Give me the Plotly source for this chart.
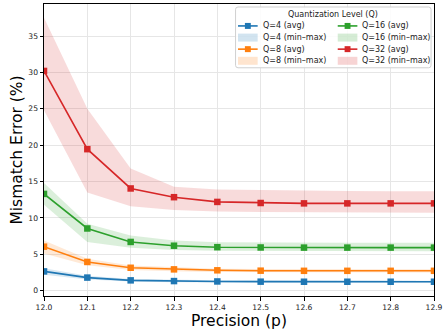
import plotly.graph_objects as go

# Precision sweep and mismatch error per quantization level
precision = [12.0, 12.1, 12.2, 12.3, 12.4, 12.5, 12.6, 12.7, 12.8, 12.9]

q4_avg = [2.65, 1.80, 1.42, 1.32, 1.27, 1.24, 1.23, 1.23, 1.23, 1.23]
q4_min = [2.20, 1.55, 1.25, 1.17, 1.12, 1.09, 1.08, 1.08, 1.08, 1.08]
q4_max = [3.10, 2.05, 1.60, 1.48, 1.42, 1.39, 1.38, 1.38, 1.38, 1.38]

q8_avg = [6.05, 3.95, 3.15, 2.93, 2.80, 2.75, 2.73, 2.73, 2.73, 2.73]
q8_min = [5.10, 3.50, 2.85, 2.68, 2.57, 2.53, 2.51, 2.51, 2.51, 2.51]
q8_max = [6.90, 4.40, 3.45, 3.20, 3.03, 2.97, 2.95, 2.95, 2.95, 2.95]

q16_avg = [13.30, 8.55, 6.70, 6.18, 5.98, 5.94, 5.92, 5.92, 5.92, 5.92]
q16_min = [11.80, 6.70, 5.90, 5.60, 5.50, 5.45, 5.42, 5.42, 5.42, 5.42]
q16_max = [14.80, 9.20, 7.60, 6.90, 6.65, 6.60, 6.58, 6.58, 6.58, 6.58]

q32_avg = [30.20, 19.45, 14.05, 12.85, 12.20, 12.05, 12.00, 12.00, 12.00, 12.00]
q32_min = [24.80, 13.50, 11.60, 11.10, 10.90, 10.80, 10.75, 10.70, 10.70, 10.70]
q32_max = [37.50, 25.00, 16.80, 14.30, 13.90, 13.80, 13.70, 13.70, 13.65, 13.65]

y_ticks = [0, 5, 10, 15, 20, 25, 30, 35]
x_ticks = precision

levels = [
    ("Q=4", "#1f77b4", q4_avg, q4_min, q4_max),
    ("Q=8", "#ff7f0e", q8_avg, q8_min, q8_max),
    ("Q=16", "#2ca02c", q16_avg, q16_min, q16_max),
    ("Q=32", "#d62728", q32_avg, q32_min, q32_max),
]

BAND_ALPHA = 0.17


def rgba(hex_color, alpha):
    h = hex_color.lstrip("#")
    r, g, b = int(h[0:2], 16), int(h[2:4], 16), int(h[4:6], 16)
    return f"rgba({r},{g},{b},{alpha})"


fig = go.Figure()

# min-max bands first so the average lines sit on top
for name, color, avg, lo, hi in levels:
    fig.add_trace(go.Scatter(
        x=precision + precision[::-1],
        y=hi + lo[::-1],
        fill="toself",
        fillcolor=rgba(color, BAND_ALPHA),
        line=dict(width=0),
        mode="lines",
        hoverinfo="skip",
        showlegend=False,
        name=f"{name} (min–max)",
    ))

for name, color, avg, lo, hi in levels:
    fig.add_trace(go.Scatter(
        x=precision,
        y=avg,
        mode="lines+markers",
        line=dict(color=color, width=1.6),
        marker=dict(symbol="square", size=6.5, color=color),
        showlegend=False,
        name=f"{name} (avg)",
    ))

# ---- legend panel (drawn in paper space) ----
PLOT_L, PLOT_W, PLOT_B, PLOT_H = 44, 397, 296, 293


def xp(px):
    return (px - PLOT_L) / PLOT_W


def yp(py):
    return (PLOT_B - py) / PLOT_H


shapes = []
annotations = []

box_l, box_r, box_t, box_b, rad = 239, 438, 6, 67, 2.5
path = (
    f"M{xp(box_l + rad)},{yp(box_t)} L{xp(box_r - rad)},{yp(box_t)} "
    f"Q{xp(box_r)},{yp(box_t)} {xp(box_r)},{yp(box_t + rad)} "
    f"L{xp(box_r)},{yp(box_b - rad)} "
    f"Q{xp(box_r)},{yp(box_b)} {xp(box_r - rad)},{yp(box_b)} "
    f"L{xp(box_l + rad)},{yp(box_b)} "
    f"Q{xp(box_l)},{yp(box_b)} {xp(box_l)},{yp(box_b - rad)} "
    f"L{xp(box_l)},{yp(box_t + rad)} "
    f"Q{xp(box_l)},{yp(box_t)} {xp(box_l + rad)},{yp(box_t)} Z"
)
shapes.append(dict(type="path", path=path, xref="paper", yref="paper",
                   fillcolor="rgba(255,255,255,0.85)",
                   line=dict(color="#d0d0d0", width=1), layer="above"))

LEG_FONT = dict(family="DejaVu Sans", size=8, color="#222222")

annotations.append(dict(text="Quantization Level (Q)", x=xp(338), y=yp(14),
                        xref="paper", yref="paper", showarrow=False,
                        xanchor="center", yanchor="middle", font=LEG_FONT))

col_x = [241.5, 343]
row_y = [25, 36.7, 48.3, 60]
sym_w = 20
for i, (name, color, avg, lo, hi) in enumerate(levels):
    col = i // 2
    r0 = (i % 2) * 2
    x0 = col_x[col]
    # average entry: line with square marker
    yc = row_y[r0]
    shapes.append(dict(type="line", xref="paper", yref="paper",
                       x0=xp(x0), x1=xp(x0 + sym_w), y0=yp(yc), y1=yp(yc),
                       line=dict(color=color, width=1.6), layer="above"))
    shapes.append(dict(type="rect", xref="paper", yref="paper",
                       x0=xp(x0 + sym_w / 2 - 3), x1=xp(x0 + sym_w / 2 + 3),
                       y0=yp(yc - 3), y1=yp(yc + 3),
                       fillcolor=color, line=dict(width=0), layer="above"))
    annotations.append(dict(text=f"{name} (avg)", x=xp(x0 + sym_w + 3), y=yp(yc),
                            xref="paper", yref="paper", showarrow=False,
                            xanchor="left", yanchor="middle", font=LEG_FONT))
    # band entry: filled swatch
    yc = row_y[r0 + 1]
    shapes.append(dict(type="rect", xref="paper", yref="paper",
                       x0=xp(x0), x1=xp(x0 + sym_w),
                       y0=yp(yc - 4), y1=yp(yc + 4),
                       fillcolor=rgba(color, BAND_ALPHA + 0.03),
                       line=dict(width=0), layer="above"))
    annotations.append(dict(text=f"{name} (min–max)", x=xp(x0 + sym_w + 3), y=yp(yc),
                            xref="paper", yref="paper", showarrow=False,
                            xanchor="left", yanchor="middle", font=LEG_FONT))

axis_common = dict(
    showline=True, linecolor="#000000", linewidth=1, mirror=True,
    ticks="outside", ticklen=3.5, tickwidth=1, tickcolor="#000000",
    showgrid=True, gridcolor="#e6e6e6", gridwidth=1,
    zeroline=False, ticklabeloverflow="allow",
    tickfont=dict(family="DejaVu Sans", size=7.6, color="#222222"),
)

fig.update_layout(
    width=446, height=331, autosize=False,
    margin=dict(l=44, r=5, t=3, b=35, pad=0),
    paper_bgcolor="white", plot_bgcolor="white",
    showlegend=False,
    font=dict(family="DejaVu Sans"),
    xaxis=dict(
        range=[12.0, 12.9], tickvals=x_ticks,
        ticktext=[f"{v:.1f}" for v in x_ticks],
        title=dict(text="Precision (p)", standoff=4,
                   font=dict(family="DejaVu Sans", size=15.5, color="#000000")),
        **axis_common,
    ),
    yaxis=dict(
        range=[-0.73, 39.4], tickvals=y_ticks,
        title=dict(text="Mismatch Error (%)", standoff=1,
                   font=dict(family="DejaVu Sans", size=15.5, color="#000000")),
        **axis_common,
    ),
    shapes=shapes,
    annotations=annotations,
)

fig.write_html("out.html")
